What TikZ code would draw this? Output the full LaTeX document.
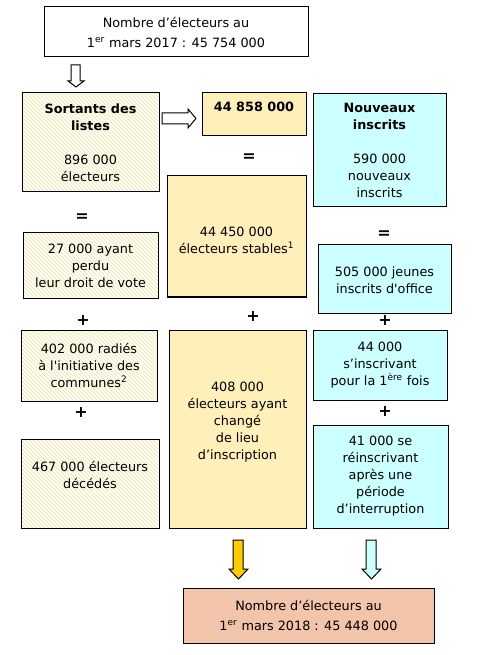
\documentclass[tikz,border=0pt]{standalone}
\usepackage{fontspec}
\setmainfont{DejaVu Sans}
\usepackage{xcolor}
\usetikzlibrary{patterns,positioning}
\definecolor{hatchcol}{RGB}{248,228,145}
\definecolor{stablecol}{RGB}{255,240,186}
\definecolor{newcol}{RGB}{204,255,255}
\definecolor{finalcol}{RGB}{242,196,170}
\definecolor{goldcol}{RGB}{255,204,0}

\begin{document}
\begin{tikzpicture}[
    x=0.75pt, y=-0.75pt,
    font=\fontsize{9.6}{12.75}\selectfont,
    box/.style={draw=black, line width=0.75pt, align=center, inner sep=0pt},
    hbox/.style={box, preaction={fill=white}, pattern=north west lines, pattern color=hatchcol},
    ybox/.style={box, fill=stablecol},
    cbox/.style={box, fill=newcol},
    fbox/.style={box, fill=finalcol, font=\fontsize{9.6}{15}\selectfont},
    sign/.style={font=\fontsize{12}{12}\selectfont\bfseries, inner sep=0pt},
    blockarrow/.style={draw=black, line width=0.75pt}
]
\useasboundingbox (0,0) rectangle (479,655);

% start and end totals
\node[box, font=\fontsize{9.6}{15}\selectfont, minimum width=264*0.75pt, minimum height=50*0.75pt] (start) at (176,32)
  {Nombre d’électeurs au\\1\textsuperscript{er} mars 2017 : 45 754 000};
\node[fbox, minimum width=251*0.75pt, minimum height=55*0.75pt] (final) at (308.5,615.5)
  {Nombre d’électeurs au\\1\textsuperscript{er} mars 2018 : 45 448 000};

% left column: removed from the lists
\node[hbox, minimum width=137*0.75pt, minimum height=99*0.75pt] (sortants) at (90.5,142.5)
  {\textbf{Sortants des}\\\textbf{listes}\\\mbox{}\\896 000\\électeurs};
\node[hbox, minimum width=135*0.75pt, minimum height=65*0.75pt] (perdu) at (90.5,265.5)
  {27 000 ayant\\perdu\\leur droit de vote};
\node[hbox, minimum width=136*0.75pt, minimum height=71*0.75pt] (radies) at (89,365.5)
  {402 000 radiés\\à l\textquotesingle initiative des\\communes\textsuperscript{2}};
\node[hbox, minimum width=138*0.75pt, minimum height=89*0.75pt] (decedes) at (90,483.5)
  {467 000 électeurs\\décédés\\\mbox{}};

% middle column: stable voters
\node[ybox, minimum width=104*0.75pt, minimum height=43*0.75pt] (total) at (254,114.5)
  {\textbf{44 858 000}\\[-1.5pt]\mbox{}};
\node[ybox, minimum width=139*0.75pt, minimum height=121*0.75pt] (stables) at (236.5,236.5)
  {\mbox{}\\44 450 000\\électeurs stables\textsuperscript{1}};
\node[ybox, minimum width=137*0.75pt, minimum height=198*0.75pt] (change) at (237.5,429)
  {408 000\\électeurs ayant\\changé\\de lieu\\d’inscription\\\mbox{}};

% right column: new voters
\node[cbox, minimum width=133*0.75pt, minimum height=113*0.75pt] (nouveaux) at (379.5,150.5)
  {\textbf{Nouveaux}\\\textbf{inscrits}\\\mbox{}\\590 000\\nouveaux\\inscrits};
\node[cbox, minimum width=133*0.75pt, minimum height=68*0.75pt] (jeunes) at (384.5,279)
  {\mbox{}\\[-3.75pt]505 000 jeunes\\inscrits d\textquotesingle office};
\node[cbox, minimum width=134*0.75pt, minimum height=70*0.75pt] (premiere) at (380,365)
  {44 000\\s’inscrivant\\pour la 1\textsuperscript{ère} fois};
\node[cbox, minimum width=135*0.75pt, minimum height=103*0.75pt] (reinscrits) at (380.5,476.5)
  {41 000 se\\réinscrivant\\après une\\période\\d’interruption};

% operators
\node[sign] (eqmid) at (249,158) {=};
\node[sign] (eqleft) at (82,218) {=};
\node[sign] (eqright) at (384,235) {=};
\node[sign] (plusleft) at (83,320) {+};
\node[sign] (plusmid) at (253,316) {+};
\node[sign] (plusright) at (385,320) {+};
\node[sign] (plusleftb) at (81,412) {+};
\node[sign] (plusrightb) at (385,411) {+};

% block arrows
\draw[blockarrow, fill=white] (71,65) -- (80,65) -- (80,81) -- (84,81) -- (76,87) -- (68,81) -- (71,81) -- cycle;
\draw[blockarrow, fill=white] (162,113) -- (188,113) -- (188,109) -- (196,118.5) -- (188,128) -- (188,124) -- (162,124) -- cycle;
\draw[blockarrow, fill=goldcol] (233,540) -- (243,540) -- (243,569) -- (248,569) -- (238.5,579) -- (229,569) -- (233,569) -- cycle;
\draw[blockarrow, fill=newcol] (366,540) -- (376,540) -- (376,569) -- (381,569) -- (371.5,579) -- (362,569) -- (366,569) -- cycle;
\end{tikzpicture}
\end{document}
